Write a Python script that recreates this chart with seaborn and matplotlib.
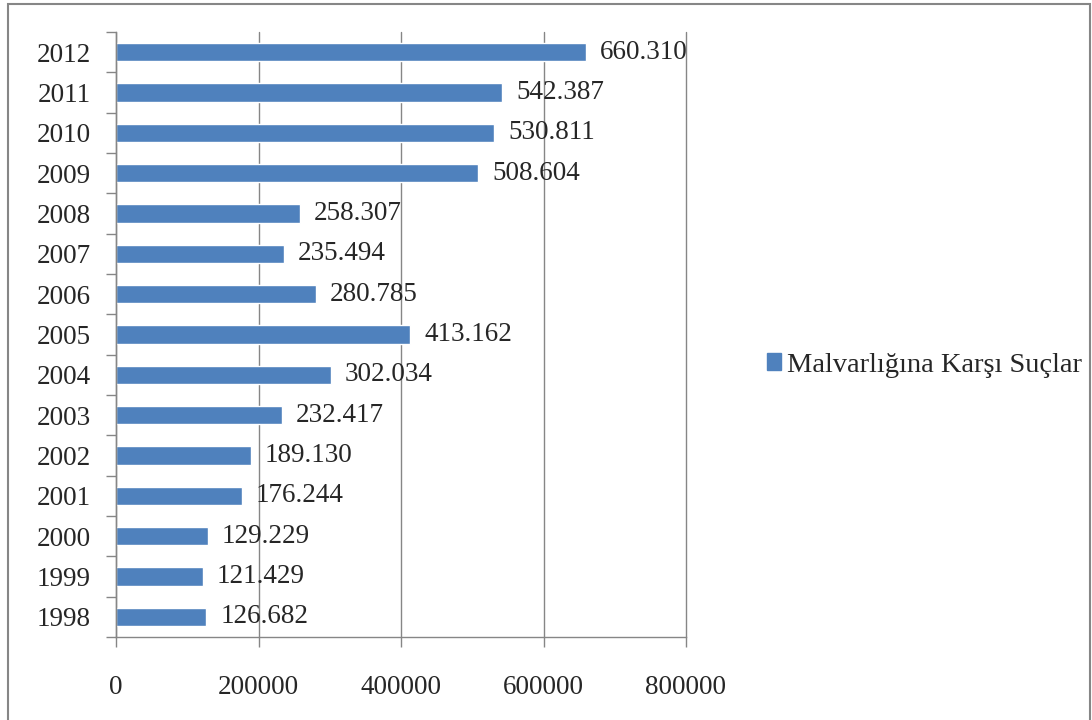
import seaborn as sns
import matplotlib.pyplot as plt
import matplotlib.patches as mpatches
import pandas as pd

# data
years = ['2012', '2011', '2010', '2009', '2008', '2007', '2006', '2005',
         '2004', '2003', '2002', '2001', '2000', '1999', '1998']
counts = [660310, 542387, 530811, 508604, 258307, 235494, 280785, 413162,
          302034, 232417, 189130, 176244, 129229, 121429, 126682]
series_name = 'Malvarlığına Karşı Suçlar'

df = pd.DataFrame({'Year': years, 'Count': counts})

sns.set_style('white')
plt.rcParams['font.family'] = ['Liberation Serif', 'DejaVu Serif']

bar_color = '#4F81BD'
line_color = '#868686'

fig = plt.figure(figsize=(10.92, 7.2), dpi=100)
ax = fig.add_axes([116 / 1092, 1 - 637 / 720, 570 / 1092, 605 / 720])

sns.barplot(x='Count', y='Year', data=df, order=years, color=bar_color,
            width=0.45, saturation=1, orient='h', ax=ax)

# value labels with dot as thousands separator
labels = [f'{v:,}'.replace(',', '.') for v in counts]
ax.bar_label(ax.containers[0], labels=labels, padding=10, fontsize=19.5)

ax.set_xlim(0, 800000)
ax.set_ylim(len(years) - 0.5, -0.5)
ax.set_xticks([0, 200000, 400000, 600000, 800000])
ax.set_xticklabels(['0', '200000', '400000', '600000', '800000'])
ax.set_xlabel('')
ax.set_ylabel('')

# category ticks sit on the boundaries between bars
ax.set_yticks([i - 0.5 for i in range(len(years) + 1)], minor=True)
ax.tick_params(axis='y', which='major', length=0, pad=18, labelsize=19.5)
ax.tick_params(axis='y', which='minor', length=7, width=1, color=line_color, direction='out', left=True)
ax.tick_params(axis='x', which='major', length=7, width=1, color=line_color, direction='out',
               bottom=True, pad=20, labelsize=19.5)

ax.grid(axis='x', color=line_color, linewidth=1)
for gl in ax.get_xgridlines():
    gl.set_clip_on(False)
ax.set_axisbelow(True)
for side in ['top', 'right']:
    ax.spines[side].set_visible(False)
for side in ['left', 'bottom']:
    ax.spines[side].set_color(line_color)
    ax.spines[side].set_linewidth(1)

handle = mpatches.Patch(color=bar_color, label=series_name)
fig.legend(handles=[handle], loc='center left', bbox_to_anchor=(761 / 1092, 1 - 365 / 720),
           frameon=False, fontsize=20.5, handlelength=0.5, handleheight=0.5, handletextpad=0.2,
           borderaxespad=0, borderpad=0.2)

# outer chart border
border = mpatches.Rectangle((8 / 1092, -0.1), 1082 / 1092, 1.1 - 4 / 720,
                            transform=fig.transFigure, fill=False,
                            edgecolor=line_color, linewidth=1.5, clip_on=False)
fig.patches.append(border)

fig.savefig('out.png', dpi=100)
